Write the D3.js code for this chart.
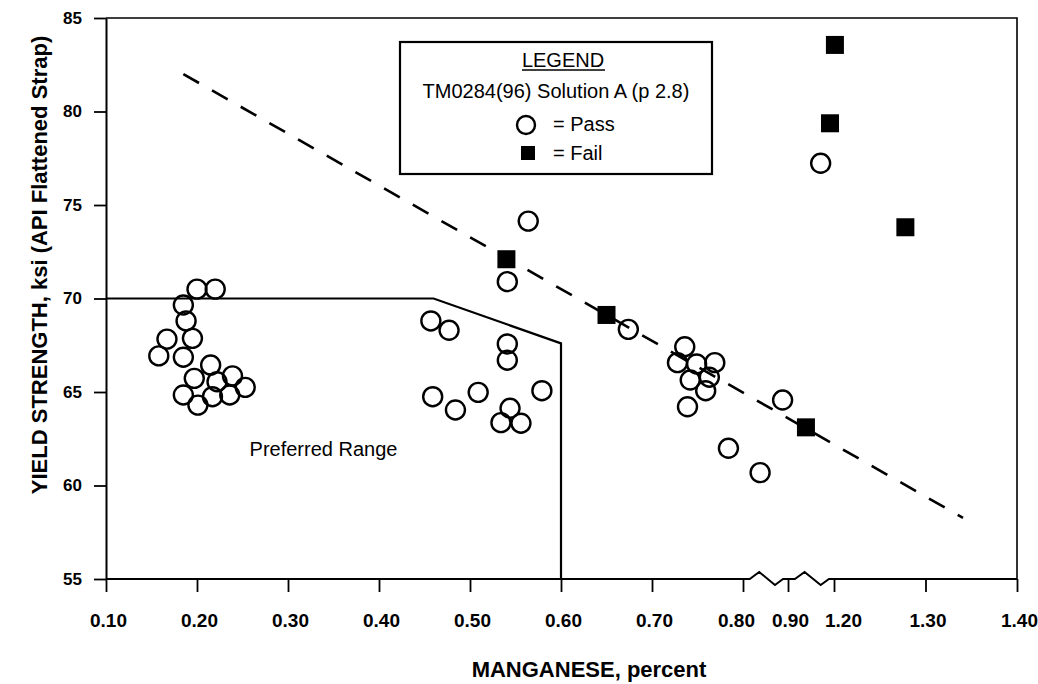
<!DOCTYPE html>
<html>
<head>
<meta charset="utf-8">
<script src="https://cdn.jsdelivr.net/npm/d3@7"></script>
<style>
  html, body { margin: 0; padding: 0; background: #fff; }
  svg { display: block; font-family: "Liberation Sans", Arial, Helvetica, sans-serif; }
</style>
</head>
<body>
<svg id="chart" width="1038" height="684"></svg>
<script>
// Axis tick values (the Mn axis is broken between 0.80 and 1.20)
const xTickValues = [0.10, 0.20, 0.30, 0.40, 0.50, 0.60, 0.70, 0.80, 0.90, 1.20, 1.30, 1.40];
const yTickValues = [55, 60, 65, 70, 75, 80, 85];

// Passed specimens: manganese (%) and yield strength (ksi)
const passMn = [0.200, 0.220, 0.185, 0.188, 0.167, 0.195, 0.158, 0.185, 0.215, 0.197, 0.222, 0.239, 0.253, 0.185, 0.217, 0.236, 0.201,
                0.457, 0.477, 0.541, 0.541, 0.541, 0.459, 0.484, 0.509, 0.579, 0.544, 0.534, 0.556, 0.564,
                0.674, 0.736, 0.728, 0.749, 0.769, 0.742, 0.763, 0.759, 0.739, 0.784, 0.838, 0.888, 1.113];
const passYS = [70.5, 70.5, 69.65, 68.8, 67.83, 67.87, 66.93, 66.86, 66.44, 65.73, 65.55, 65.86, 65.25, 64.84, 64.75, 64.84, 64.30,
                68.8, 68.3, 70.9, 67.57, 66.7, 64.75, 64.04, 64.98, 65.07, 64.13, 63.36, 63.33, 74.14,
                68.35, 67.42, 66.57, 66.5, 66.57, 65.64, 65.79, 65.07, 64.21, 61.99, 60.69, 64.57, 77.23];

// Failed specimens
const failMn = [0.540, 0.650, 1.017, 1.201, 1.174, 1.278];
const failYS = [72.1, 69.12, 63.11, 83.56, 79.37, 73.81];

// Outline of the preferred range
const preferredMn = [0.10, 0.46, 0.60, 0.60];
const preferredYS = [70, 70, 67.6, 55];

// Dashed pass/fail boundary
const trendMn = [0.185, 1.341];
const trendYS = [82.0, 58.27];

const svg = d3.select("#chart");

const x = d3.scaleLinear()
  .domain([0.10, 0.80, 0.90, 1.20, 1.40])
  .range([106, 743, 788, 834, 1017]);
const y = d3.scaleLinear()
  .domain([55, 85])
  .range([579, 18]);

const ink = "#000";

// Plot frame (top and right edges)
svg.append("path")
  .attr("d", `M${x(0.10)},${y(85)}H${x(1.40)}V${y(55)}`)
  .attr("fill", "none").attr("stroke", ink).attr("stroke-width", 1.6);

// Y axis
const yAxis = svg.append("g")
  .attr("transform", `translate(${x(0.10)},0)`)
  .call(d3.axisLeft(y).tickValues(yTickValues).tickSize(12).tickSizeOuter(0).tickPadding(12).tickFormat(d3.format("d")));
yAxis.select(".domain").attr("stroke", ink).attr("stroke-width", 2);
yAxis.selectAll(".tick line").attr("stroke", ink).attr("stroke-width", 1.8);
yAxis.selectAll(".tick text")
  .attr("fill", ink).attr("font-size", 17).attr("font-weight", "bold")
  .attr("font-family", "Liberation Sans, Arial, sans-serif");

// X axis
const xLabelShift = d => d === 0.80 ? -7 : (d === 1.20 ? 9 : 2);
const xAxis = svg.append("g")
  .attr("transform", `translate(0,${y(55)})`)
  .call(d3.axisBottom(x).tickValues(xTickValues).tickSize(13).tickPadding(22).tickFormat(d3.format(".2f")));
xAxis.select(".domain").remove();
xAxis.selectAll(".tick line").attr("stroke", ink).attr("stroke-width", 1.8);
xAxis.selectAll(".tick text")
  .attr("fill", ink).attr("font-size", 19).attr("font-weight", "bold")
  .attr("font-family", "Liberation Sans, Arial, sans-serif")
  .attr("dx", d => xLabelShift(d));

// X axis baseline with zigzag break marks in the compressed segments
function zigzag(a, b, yb) {
  const w = b - a;
  return [[a + w * 0.15, yb], [a + w * 0.36, yb - 7], [a + w * 0.71, yb + 6], [a + w * 0.89, yb], [b, yb]];
}
const yb = y(55);
const basePts = [[x(0.10), yb], [x(0.80), yb]]
  .concat(zigzag(x(0.80), x(0.90), yb))
  .concat(zigzag(x(0.90), x(1.20), yb))
  .concat([[x(1.40), yb]]);
svg.append("path")
  .attr("d", d3.line()(basePts))
  .attr("fill", "none").attr("stroke", ink).attr("stroke-width", 2).attr("stroke-linejoin", "miter");

// Preferred range outline
svg.append("path")
  .attr("d", d3.line().x((d, i) => x(preferredMn[i])).y((d, i) => y(preferredYS[i]))(preferredMn))
  .attr("fill", "none").attr("stroke", ink).attr("stroke-width", 2.2);

svg.append("text")
  .attr("x", x(0.339)).attr("y", y(61.57))
  .attr("text-anchor", "middle").attr("font-size", 20).attr("fill", ink)
  .text("Preferred Range");

// Dashed boundary line
svg.append("path")
  .attr("d", d3.line().x((d, i) => x(trendMn[i])).y((d, i) => y(trendYS[i]))(trendMn))
  .attr("fill", "none").attr("stroke", ink).attr("stroke-width", 2.6)
  .attr("stroke-dasharray", "18,15");

// Pass markers (open circles)
svg.append("g").selectAll("circle")
  .data(passMn)
  .join("circle")
  .attr("cx", (d, i) => x(passMn[i]))
  .attr("cy", (d, i) => y(passYS[i]))
  .attr("r", 9.5)
  .attr("fill", "none").attr("stroke", ink).attr("stroke-width", 2.4);

// Fail markers (filled squares)
const sq = 18;
svg.append("g").selectAll("rect")
  .data(failMn)
  .join("rect")
  .attr("x", (d, i) => x(failMn[i]) - sq / 2)
  .attr("y", (d, i) => y(failYS[i]) - sq / 2)
  .attr("width", sq).attr("height", sq)
  .attr("fill", ink);

// Legend box
const lg = svg.append("g");
lg.append("rect")
  .attr("x", 400).attr("y", 42).attr("width", 312).attr("height", 132)
  .attr("fill", "#fff").attr("stroke", ink).attr("stroke-width", 2.2);
lg.append("text")
  .attr("x", 563).attr("y", 67).attr("text-anchor", "middle")
  .attr("font-size", 20).attr("fill", ink).text("LEGEND");
lg.append("line")
  .attr("x1", 522).attr("x2", 605).attr("y1", 70).attr("y2", 70)
  .attr("stroke", ink).attr("stroke-width", 1.6);
lg.append("text")
  .attr("x", 556).attr("y", 98).attr("text-anchor", "middle")
  .attr("font-size", 20).attr("fill", ink).text("TM0284(96) Solution A (p 2.8)");
lg.append("circle")
  .attr("cx", 526).attr("cy", 125).attr("r", 9)
  .attr("fill", "none").attr("stroke", ink).attr("stroke-width", 2.4);
lg.append("text")
  .attr("x", 553).attr("y", 131).attr("font-size", 20).attr("fill", ink).text("= Pass");
lg.append("rect")
  .attr("x", 521).attr("y", 146).attr("width", 14).attr("height", 14)
  .attr("fill", ink);
lg.append("text")
  .attr("x", 553).attr("y", 160).attr("font-size", 20).attr("fill", ink).text("= Fail");

// Axis titles
svg.append("text")
  .attr("transform", "translate(47,265) rotate(-90)")
  .attr("text-anchor", "middle").attr("font-size", 22).attr("font-weight", "bold").attr("fill", ink)
  .text("YIELD STRENGTH, ksi (API Flattened Strap)");
svg.append("text")
  .attr("x", 589).attr("y", 677)
  .attr("text-anchor", "middle").attr("font-size", 22).attr("font-weight", "bold").attr("fill", ink)
  .text("MANGANESE, percent");
</script>
</body>
</html>
